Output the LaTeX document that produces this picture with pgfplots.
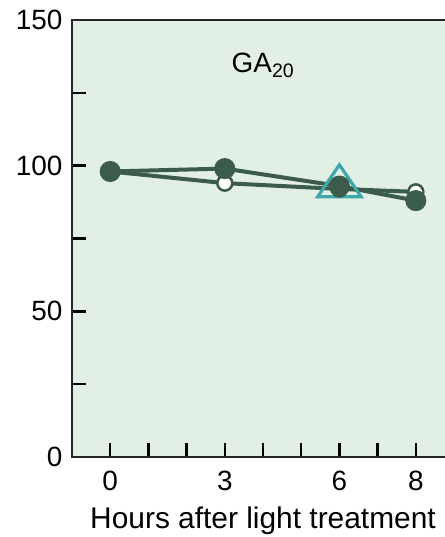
\documentclass[border=0pt]{standalone}
\usepackage{fontspec}
\setmainfont{Liberation Sans}
\usepackage{pgfplots}
\pgfplotsset{compat=1.18}
\definecolor{bg}{HTML}{E1EFE4}
\definecolor{dg}{HTML}{3B5B4C}
\definecolor{tealA}{HTML}{3DA8AB}
\begin{document}
\begin{tikzpicture}[x=1bp,y=1bp]
\begin{scope}
\clip (-72,-80) rectangle (373,457);
\begin{axis}[
  at={(0,0)}, anchor=south west,
  scale only axis, width=382bp, height=437bp,
  xmin=-1, xmax=9, ymin=0, ymax=150,
  axis background/.style={fill=bg},
  axis line style={line width=2.6bp, black!85},
  xtick={0,...,8}, xticklabels={0,,,3,,,6,,8},
  ytick={0,25,...,150}, yticklabels={0,,50,,100,,150},
  tick pos=left, tick align=inside, major tick length=14bp,
  tick style={line width=2.4bp, black},
  ticklabel style={font=\fontsize{28}{30}\selectfont},
  x tick label style={yshift=-11bp},
  y tick label style={xshift=-6bp},
  /pgf/number format/assume math mode=true,
  xlabel={Hours after light treatment},
  xlabel style={font=\fontsize{30}{34}\selectfont, yshift=-9bp},
  clip=false,
]
\addplot[tealA, line width=3.2bp, only marks, mark=triangle, mark size=25bp, mark options={yscale=0.85, solid, fill=none}] coordinates {(6,93)};
\addplot[dg, line width=4bp, mark=*, mark size=7.5bp, mark options={fill=white, line width=2.5bp}] coordinates {(0,98) (3,94) (6,92) (8,91)};
\addplot[dg, line width=4bp, mark=*, mark size=8.5bp, mark options={fill=dg}] coordinates {(0,98) (3,99) (6,93) (8,88)};
\node[anchor=base, font=\fontsize{28}{30}\selectfont] at (axis cs:4.0,132) {GA\textsubscript{20}};
\end{axis}
\end{scope}
\pgfresetboundingbox
\useasboundingbox (-72,-80) rectangle (373,457);
\end{tikzpicture}
\end{document}
